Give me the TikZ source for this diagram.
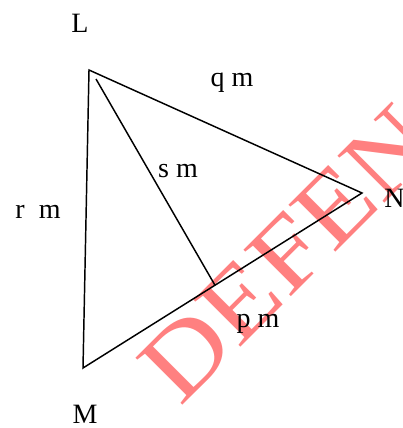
\documentclass[tikz,border=0pt]{standalone}
\usepackage{fontspec}
\setmainfont{Liberation Serif}
\usepackage{graphicx}
\usepackage{tikz}
\usetikzlibrary{calc}

\begin{document}
\begin{tikzpicture}[
  x=0.75pt, y=-0.75pt,
  lbl/.style={
    font=\fontsize{21}{25}\selectfont,
    inner sep=0pt,
    anchor=base
  },
  side/.style={line width=1.1pt, black, line join=miter},
  wmark/.style={
    font=\fontsize{76}{80}\selectfont,
    text=red!50,
    inner sep=0pt,
    anchor=base west,
    rotate=45
  }
]
\useasboundingbox (0,0) rectangle (403,428);

% ===================== watermark =====================
\node[wmark] (stamp) at (180,408) {\scalebox{1.13}[1]{DEFENCE}};

% ===================== triangle =====================
\coordinate (L) at (89,70);
\coordinate (M) at (83,368);
\coordinate (N) at (362,193);
\coordinate (S) at (96,79);
\coordinate (F) at ($(M)!0.473!(N)$);

\draw[side] (L) -- (M) -- (N) -- cycle;
\draw[side] (S) -- (F);

% ===================== labels =====================
\node[lbl] (lL) at (80,33)  {L};
\node[lbl] (lM) at (85,423) {M};
\node[lbl, anchor=base west] (lN) at (384,207) {N};
\node[lbl] (lq) at (232,87)  {q m};
\node[lbl] (ls) at (178,177) {s m};
\node[lbl] (lr) at (38,218)  {r\ \ m};
\node[lbl] (lp) at (258,327) {p m};

\end{tikzpicture}
\end{document}
